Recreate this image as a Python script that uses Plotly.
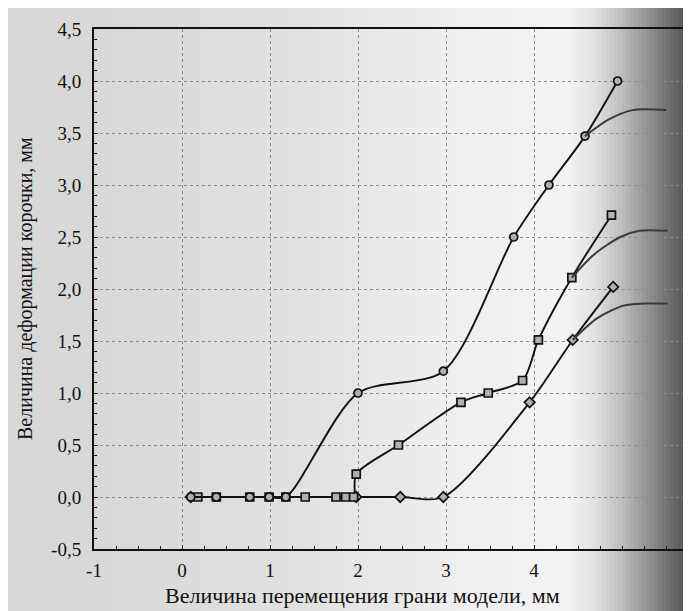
import numpy as np
import plotly.graph_objects as go

# ---------------- data ----------------
x_ticks = [-1, 0, 1, 2, 3, 4]
x_ticktext = ["-1", "0", "1", "2", "3", "4"]
y_ticks = [-0.5, 0.0, 0.5, 1.0, 1.5, 2.0, 2.5, 3.0, 3.5, 4.0, 4.5]
y_ticktext = ["-0,5", "0,0", "0,5", "1,0", "1,5", "2,0", "2,5", "3,0", "3,5", "4,0", "4,5"]

s1_x = [0.10, 0.39, 0.77, 0.99, 1.18, 2.00, 2.97, 3.77, 4.17, 4.58, 4.95]
s1_y = [0.00, 0.00, 0.00, 0.00, 0.00, 1.00, 1.21, 2.50, 3.00, 3.47, 4.00]

s2_x = [0.18, 0.39, 0.77, 0.99, 1.18, 1.40, 1.75, 1.86, 1.95, 1.98, 2.46, 3.17, 3.48, 3.87, 4.05, 4.43, 4.88]
s2_y = [0.00, 0.00, 0.00, 0.00, 0.00, 0.00, 0.00, 0.00, 0.00, 0.22, 0.50, 0.91, 1.00, 1.12, 1.51, 2.11, 2.71]

s3_x = [0.10, 1.98, 2.48, 2.97, 3.95, 4.44, 4.90]
s3_y = [0.00, 0.00, 0.00, 0.00, 0.91, 1.51, 2.02]

fit1_x = [4.58, 4.85, 5.12, 5.50]
fit1_y = [3.47, 3.63, 3.72, 3.72]
fit2_x = [4.43, 4.68, 4.98, 5.20, 5.52]
fit2_y = [2.11, 2.33, 2.50, 2.56, 2.56]
fit3_x = [4.44, 4.72, 5.02, 5.25, 5.52]
fit3_y = [1.51, 1.72, 1.84, 1.86, 1.86]

x_title = "Величина перемещения грани модели, мм"
y_title = "Величина деформации корочки, мм"

# ---------------- layout constants ----------------
W, H = 691, 611
L, T, B, R = 86, 21, 70, 0
unit_px = 88.0
x_range = [-1, -1 + (W - L - R) / unit_px]
y_range = [-0.5, 4.5]
FONT = "Liberation Serif, Times New Roman, serif"
INK = "#111111"

fig = go.Figure()

line_style = dict(shape="spline", smoothing=0.8, color=INK, width=1.9)


def marker(sym):
    return dict(symbol=sym, size=8, color="#b0b0b0", line=dict(color=INK, width=1.7))


fig.add_trace(go.Scatter(x=s3_x, y=s3_y, mode="lines+markers", line=line_style,
                         marker=marker("diamond"), showlegend=False))
fig.add_trace(go.Scatter(x=s2_x, y=s2_y, mode="lines+markers", line=line_style,
                         marker=marker("square"), showlegend=False))
fig.add_trace(go.Scatter(x=s1_x, y=s1_y, mode="lines+markers", line=line_style,
                         marker=marker("circle"), showlegend=False))

fit_style = dict(shape="spline", smoothing=0.8, color="#3a3a3a", width=2)
for fx, fy in [(fit1_x, fit1_y), (fit2_x, fit2_y), (fit3_x, fit3_y)]:
    fig.add_trace(go.Scatter(x=fx, y=fy, mode="lines", line=fit_style, showlegend=False))

# ---------------- scanned-paper background shading ----------------
shade_px = [86, 300, 450, 560, 590, 620, 650, 675, 691]
shade_gray = [216, 226, 240, 244, 222, 180, 130, 90, 66]
shapes = []
px_edges = np.arange(86, 693, 4)
for a, b in zip(px_edges[:-1], px_edges[1:]):
    g = int(np.interp((a + b) / 2, shade_px, shade_gray))
    shapes.append(dict(type="rect", xref="paper", yref="paper",
                       x0=(a - L) / (W - L - R), x1=(b + 1 - L) / (W - L - R),
                       y0=-0.2, y1=1.1, line=dict(width=0),
                       fillcolor=f"rgb({g},{g},{g})", layer="below"))

plot_w = W - L - R
plot_h = H - T - B
fig.update_layout(
    width=W, height=H,
    margin=dict(l=L, r=R, t=T, b=B),
    paper_bgcolor="rgb(216,216,216)",
    plot_bgcolor="rgba(0,0,0,0)",
    font=dict(family=FONT, size=19, color=INK),
    shapes=shapes,
    xaxis=dict(range=x_range, tickvals=x_ticks, ticktext=x_ticktext,
               showgrid=True, gridcolor="#8c8c8c", griddash="dot", gridwidth=1,
               zeroline=False, showline=True, linecolor=INK, linewidth=2, mirror=True,
               ticks="inside", ticklen=4, tickcolor=INK, ticklabelstandoff=3,
               minor=dict(ticks="inside", ticklen=3, dtick=0.25, tickcolor=INK, showgrid=False),
               tickfont=dict(family=FONT, size=19, color=INK)),
    yaxis=dict(range=y_range, tickvals=y_ticks, ticktext=y_ticktext,
               showgrid=True, gridcolor="#8c8c8c", griddash="dot", gridwidth=1,
               zeroline=False, showline=True, linecolor=INK, linewidth=2,
               ticks="inside", ticklen=4, tickcolor=INK, ticklabelstandoff=7,
               minor=dict(ticks="inside", ticklen=3, dtick=0.1, tickcolor=INK, showgrid=False),
               tickfont=dict(family=FONT, size=19, color=INK)),
    annotations=[
        dict(text=x_title, xref="paper", yref="paper",
             x=(155 - L) / plot_w, y=(H - B - 587) / plot_h,
             xanchor="left", yanchor="middle", showarrow=False,
             font=dict(family=FONT, size=22, color=INK)),
        dict(text=y_title, xref="paper", yref="paper",
             x=(17 - L) / plot_w, y=0.5, textangle=-90,
             xanchor="center", yanchor="middle", showarrow=False,
             font=dict(family=FONT, size=20, color=INK)),
    ],
)

fig.write_html("out.html")
